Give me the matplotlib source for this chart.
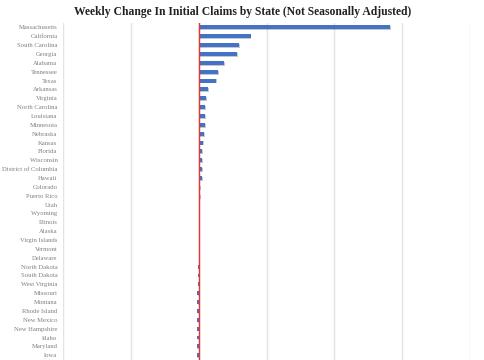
import matplotlib
matplotlib.use("Agg")
import matplotlib.pyplot as plt
import matplotlib.patheffects as pe

# weekly change in initial claims (arbitrary scale)
states = [
    "Massachusetts", "California", "South Carolina", "Georgia", "Alabama",
    "Tennessee", "Texas", "Arkansas", "Virginia", "North Carolina",
    "Louisiana", "Minnesota", "Nebraska", "Kansas", "Florida", "Wisconsin",
    "District of Columbia", "Hawaii", "Colorado", "Puerto Rico", "Utah",
    "Wyoming", "Illinois", "Alaska", "Virgin Islands", "Vermont", "Delaware",
    "North Dakota", "South Dakota", "West Virginia", "Missouri", "Montana",
    "Rhode Island", "New Mexico", "New Hampshire", "Idaho", "Maryland", "Iowa",
]
changes = [
    28200, 7650, 6000, 5700, 3800, 2900, 2600, 1400, 1100, 1000,
    900, 900, 750, 700, 500, 500, 450, 450, 200, 150, 100,
    100, 100, 50, 30, 0, -20, -30, -40, -80, -200, -200,
    -250, -250, -250, -250, -300, -300,
]
xticks = [-20000, -10000, 0, 10000, 20000, 30000, 40000]

fig = plt.figure(figsize=(4.85, 3.6), dpi=100)
ax = fig.add_axes([0.130, 0.0, 0.839, 0.936])

ypos = list(range(len(states)))
ax.barh(ypos, changes, height=0.45, color="#4472C4", zorder=3,
        path_effects=[pe.SimplePatchShadow(offset=(0.6, -0.6), alpha=0.25),
                      pe.Normal()])
ax.axvline(0, color="#E8342F", lw=1.0, zorder=4)

ax.set_xlim(-20000, 40000)
ax.set_ylim(37.54, -0.5)
ax.set_xticks(xticks)
ax.set_xticklabels([])
ax.set_yticks(ypos)
ax.set_yticklabels(states, fontsize=4.8, color="#7F7F7F",
                   family="Liberation Serif")
ax.tick_params(axis="both", length=0, pad=4)
ax.grid(axis="x", color="#E3E3E3", lw=1.0, zorder=0)
for s in ax.spines.values():
    s.set_visible(False)

fig.text(0.5, 0.967, "Weekly Change In Initial Claims by State (Not Seasonally Adjusted)",
         ha="center", va="center", fontsize=8.4, fontweight="bold",
         family="Liberation Serif", color="#222222")

fig.savefig("out.png", dpi=100)
